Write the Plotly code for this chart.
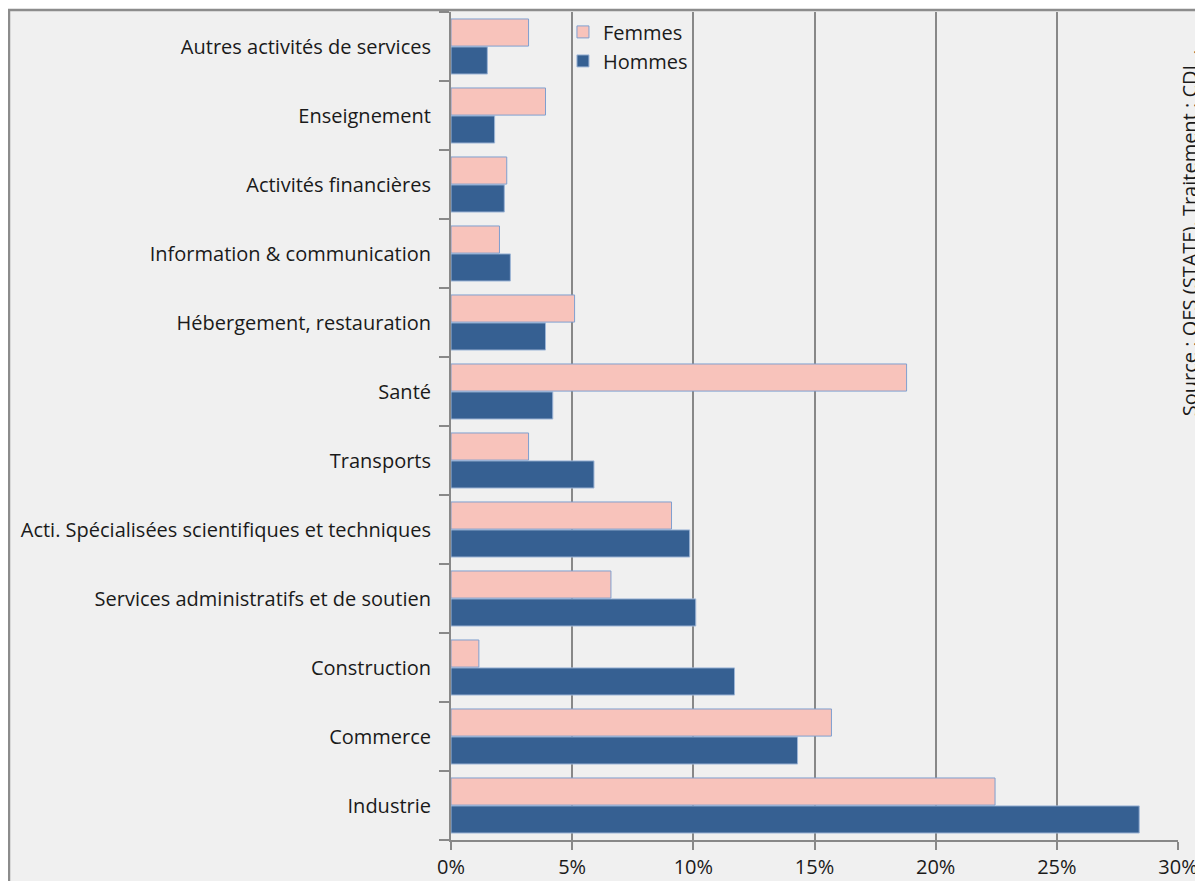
import plotly.graph_objects as go

# Secteurs (du bas vers le haut)
secteurs = ["Industrie", "Commerce", "Construction",
            "Services administratifs et de soutien",
            "Acti. Spécialisées scientifiques et techniques",
            "Transports", "Santé", "Hébergement, restauration",
            "Information & communication", "Activités financières",
            "Enseignement", "Autres activités de services"]
femmes = [22.45, 15.7, 1.15, 6.6, 9.1, 3.2, 18.8, 5.1, 2.0, 2.3, 3.9, 3.2]
hommes = [28.4, 14.3, 11.7, 10.1, 9.85, 5.9, 4.2, 3.9, 2.45, 2.2, 1.8, 1.5]
x_ticks = [0, 5, 10, 15, 20, 25, 30]

bg = "#f0f0f0"
fig = go.Figure()
fig.add_trace(go.Bar(y=secteurs, x=[v / 100 for v in hommes], name="Hommes", orientation="h",
                     marker=dict(color="#366092", line=dict(color="#9db5d6", width=1))))
fig.add_trace(go.Bar(y=secteurs, x=[v / 100 for v in femmes], name="Femmes", orientation="h",
                     marker=dict(color="#f8c3bb", line=dict(color="#7f9fcf", width=1))))

# cadre gris du graphique
fig.add_shape(type="rect", xref="paper", yref="paper", x0=-0.608, x1=1.1, y0=-0.1, y1=1.0024,
              fillcolor=bg, line=dict(color="#8c8c8c", width=2.5), layer="below")

# source (texte vertical, coupé au bord comme dans l'original)
fig.add_annotation(text="Source : OFS (STATF), Traitement : CDL .", xref="paper", yref="paper",
                   x=1.015, y=0.734, textangle=-90, showarrow=False,
                   font=dict(size=20, color="#1a1a1a"), xanchor="center", yanchor="middle")

fig.update_layout(
    width=1195, height=873,
    margin=dict(l=443, r=25, t=4, b=41, autoexpand=False),
    paper_bgcolor="white", plot_bgcolor=bg,
    barmode="group", bargap=0.19, bargroupgap=0.03,
    font=dict(family="'Open Sans', sans-serif", size=20, color="#1a1a1a"),
    showlegend=True,
    legend=dict(x=0.154, y=0.9995, xanchor="left", yanchor="top", traceorder="reversed",
                bgcolor="rgba(0,0,0,0)", font=dict(size=20)),
)
fig.update_xaxes(range=[0, 0.3], tickvals=[t / 100 for t in x_ticks], tickformat=".0%",
                 showgrid=True, gridcolor="#888888", gridwidth=2,
                 showline=True, linecolor="#888888", linewidth=2,
                 ticks="outside", ticklen=8, tickcolor="#888888", tickwidth=2,
                 zeroline=False, fixedrange=True, automargin=False)
fig.update_yaxes(showline=True, linecolor="#888888", linewidth=2,
                 ticks="outside", tickson="boundaries", ticklen=10, tickcolor="#888888", tickwidth=2,
                 ticklabelstandoff=14, showgrid=False, automargin=False)

fig.write_html("out.html")
